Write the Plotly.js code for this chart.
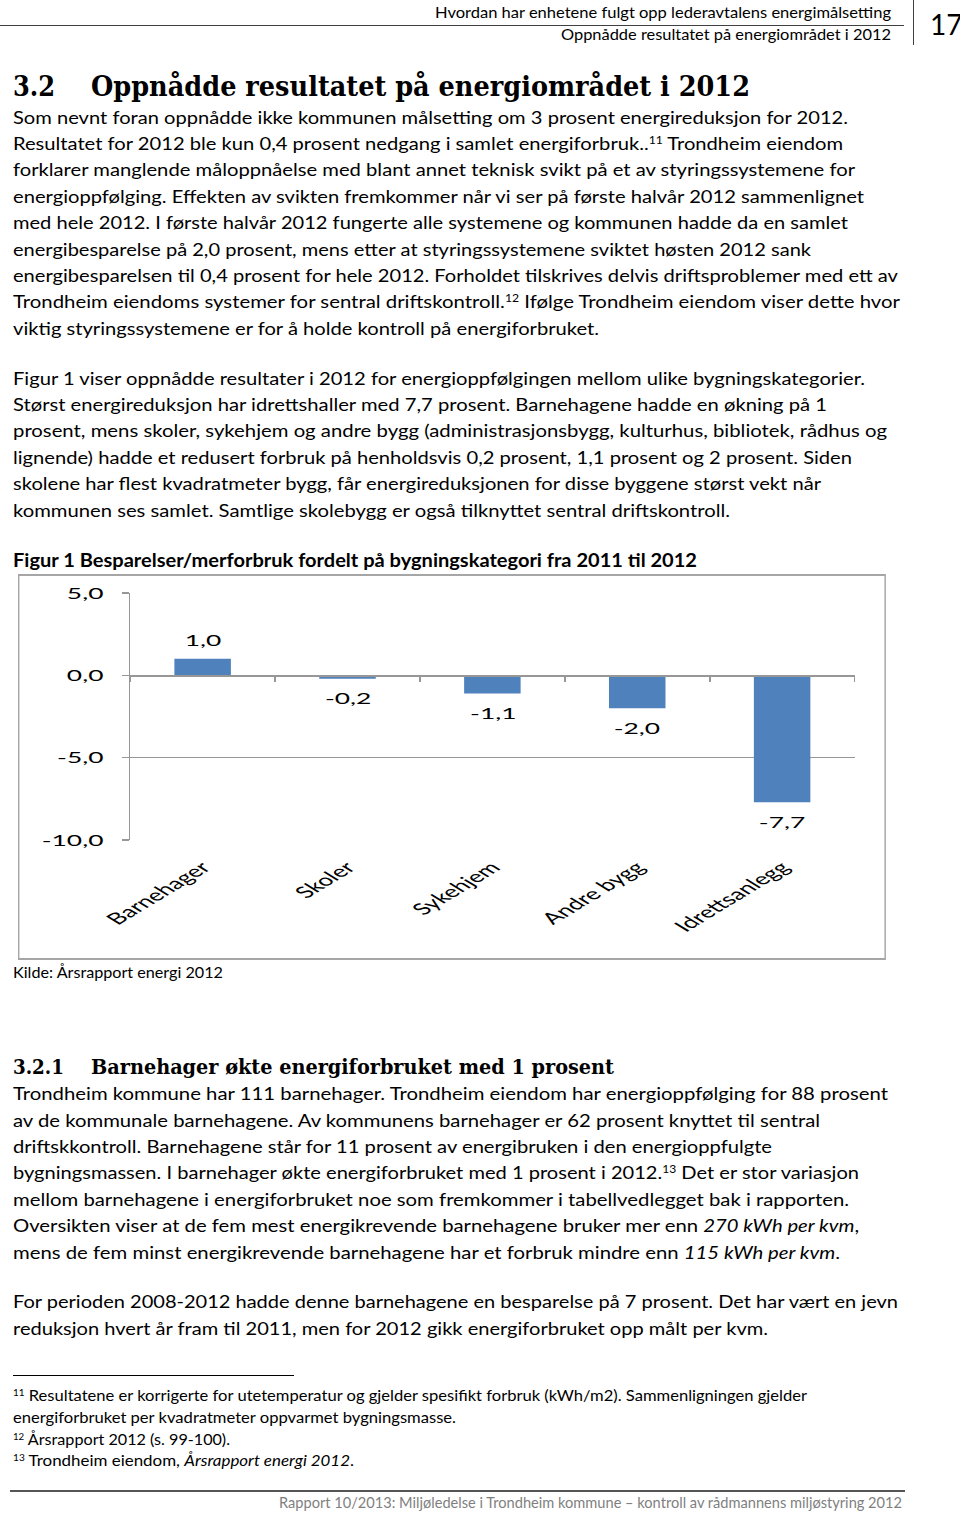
<!DOCTYPE html>
<html>
<head>
<meta charset="utf-8">
<script src="https://cdn.plot.ly/plotly-3.0.1.min.js"></script>
<style>
  html, body { margin:0; padding:0; background:#fff; }
  body { width:960px; height:1513px; position:relative; overflow:hidden; }
  .ln { position:absolute; white-space:nowrap; line-height:1; transform-origin:0 0; color:#000; }
  .b  { font-family:Lato, sans-serif; font-size:18px; }
  .cap{ font-family:Lato, sans-serif; font-size:18px; font-weight:bold; }
  .fn { font-family:Lato, sans-serif; font-size:15px; }
  .hd { font-family:Lato, sans-serif; font-size:15px; }
  .ft { font-family:Lato, sans-serif; font-size:15px; color:#7f7f7f; }
  .h1 { font-family:"DejaVu Serif", serif; font-size:28px; font-weight:bold; }
  .h2 { font-family:"DejaVu Serif", serif; font-size:20px; font-weight:bold; }
  .pg { font-family:Lato, sans-serif; font-size:28px; }
  sup { font-size:0.6em; vertical-align:0.6em; line-height:0; }
  .rule { position:absolute; }
  #wrap { position:absolute; left:18px; top:574px; width:526px; height:386px; box-sizing:border-box;
          border-style:solid; border-color:#a6a6a6; border-width:2px 1.2px; transform:scaleX(1.65); transform-origin:0 0; }
  #chart { width:523.6px; height:382px; }
</style>
</head>
<body>
<div class="rule" style="left:0;top:25px;width:904px;height:1px;background:#404040"></div>
<div class="rule" style="left:913px;top:0;width:1px;height:45px;background:#404040"></div>
<div class="rule" style="left:13px;top:1375px;width:281px;height:1px;background:#000"></div>
<div class="rule" style="left:10px;top:1490px;width:895px;height:2px;background:#555"></div>
<div id="wrap"><div id="chart"></div></div>
<script>
// ---- chart data ----
const categories = ['Barnehager', 'Skoler', 'Sykehjem', 'Andre bygg', 'Idrettsanlegg'];
const values = [1.0, -0.2, -1.1, -2.0, -7.7];
const yTickVals = [5, 0, -5, -10];
const yRange = [-10, 5];

const fmt = v => v.toFixed(1).replace('.', ',');
const labels = values.map(fmt);
const yTickText = yTickVals.map(fmt);
const zeroPos = (0 - yRange[0]) / (yRange[1] - yRange[0]);
const gray = '#979797';
const chartFont = { family: 'Lato, sans-serif', size: 16, color: '#000' };

const traces = [
  { type: 'bar', x: categories, y: values, marker: { color: '#4f81bd' },
    hoverinfo: 'skip', showlegend: false },
  { type: 'scatter', mode: 'markers', x: categories, y: values, xaxis: 'x2', yaxis: 'y',
    marker: { opacity: 0 }, hoverinfo: 'skip', showlegend: false }
];

const annotations = categories.map((c, i) => ({
  x: c, y: values[i], xref: 'x', yref: 'y', text: labels[i], showarrow: false,
  yshift: values[i] >= 0 ? 19 : -19, font: chartFont
}));

const layout = {
  width: 523.6, height: 382,
  margin: { l: 67, r: 18, t: 17, b: 118 },
  paper_bgcolor: '#fff', plot_bgcolor: '#fff',
  separators: ',.',
  showlegend: false,
  bargap: 0.61,
  font: chartFont,
  xaxis: { type: 'category', range: [-0.5, categories.length - 0.5], tickangle: -45, ticks: '',
           showline: false, showgrid: false, zeroline: false, tickfont: chartFont,
           ticklabelstandoff: 14, fixedrange: true },
  xaxis2: { type: 'category', overlaying: 'x', anchor: 'free', position: zeroPos,
            range: [-0.5, categories.length - 0.5], showticklabels: false, ticks: 'outside',
            ticklen: 5, tickwidth: 1, tickcolor: gray, tickson: 'boundaries',
            showline: true, linecolor: gray, linewidth: 1.5, showgrid: false, zeroline: false },
  yaxis: { range: yRange, tickmode: 'array', tickvals: yTickVals, ticktext: yTickText,
           showgrid: true, gridcolor: gray,
           gridwidth: 1.5, zeroline: false, showline: true, linecolor: gray, linewidth: 1,
           ticks: 'outside', ticklen: 4, tickwidth: 1.5, tickcolor: gray, tickfont: chartFont,
           ticklabelstandoff: 8, fixedrange: true },
  annotations: annotations
};

Plotly.newPlot('chart', traces, layout, { displayModeBar: false, staticPlot: true });

// ---- page text ----
const lines = [
  ['hd', 13, 435, 891, 'Hvordan har enhetene fulgt opp lederavtalens energimålsetting'],
  ['hd', 35, 561, 891, 'Oppnådde resultatet på energiområdet i 2012'],
  ['pg', 25, 930, 0, '17'],
  ['h1', 86, 13, 55, '3.2'],
  ['h1', 86, 91, 750, 'Oppnådde resultatet på energiområdet i 2012'],
  ['b', 117, 13, 848, 'Som nevnt foran oppnådde ikke kommunen målsetting om 3 prosent energireduksjon for 2012.'],
  ['b', 143, 13, 843, 'Resultatet for 2012 ble kun 0,4 prosent nedgang i samlet energiforbruk..<sup>11</sup> Trondheim eiendom'],
  ['b', 169, 13, 855, 'forklarer manglende måloppnåelse med blant annet teknisk svikt på et av styringssystemene for'],
  ['b', 196, 13, 864, 'energioppfølging. Effekten av svikten fremkommer når vi ser på første halvår 2012 sammenlignet'],
  ['b', 222, 13, 848, 'med hele 2012. I første halvår 2012 fungerte alle systemene og kommunen hadde da en samlet'],
  ['b', 249, 13, 811, 'energibesparelse på 2,0 prosent, mens etter at styringssystemene sviktet høsten 2012 sank'],
  ['b', 275, 13, 898, 'energibesparelsen til 0,4 prosent for hele 2012. Forholdet tilskrives delvis driftsproblemer med ett av'],
  ['b', 301, 13, 900, 'Trondheim eiendoms systemer for sentral driftskontroll.<sup>12</sup> Ifølge Trondheim eiendom viser dette hvor'],
  ['b', 328, 13, 599, 'viktig styringssystemene er for å holde kontroll på energiforbruket.'],
  ['b', 378, 13, 865, 'Figur 1 viser oppnådde resultater i 2012 for energioppfølgingen mellom ulike bygningskategorier.'],
  ['b', 404, 13, 827, 'Størst energireduksjon har idrettshaller med 7,7 prosent. Barnehagene hadde en økning på 1'],
  ['b', 430, 13, 887, 'prosent, mens skoler, sykehjem og andre bygg (administrasjonsbygg, kulturhus, bibliotek, rådhus og'],
  ['b', 457, 13, 852, 'lignende) hadde et redusert forbruk på henholdsvis 0,2 prosent, 1,1 prosent og 2 prosent. Siden'],
  ['b', 483, 13, 821, 'skolene har flest kvadratmeter bygg, får energireduksjonen for disse byggene størst vekt når'],
  ['b', 510, 13, 730, 'kommunen ses samlet. Samtlige skolebygg er også tilknyttet sentral driftskontroll.'],
  ['cap', 560, 13, 697, 'Figur 1 Besparelser/merforbruk fordelt på bygningskategori fra 2011 til 2012'],
  ['fn', 973, 13, 223, 'Kilde: Årsrapport energi 2012'],
  ['h2', 1067, 13, 64, '3.2.1'],
  ['h2', 1067, 91, 614, 'Barnehager økte energiforbruket med 1 prosent'],
  ['b', 1093, 13, 888, 'Trondheim kommune har 111 barnehager. Trondheim eiendom har energioppfølging for 88 prosent'],
  ['b', 1120, 13, 820, 'av de kommunale barnehagene. Av kommunens barnehager er 62 prosent knyttet til sentral'],
  ['b', 1146, 13, 772, 'driftskkontroll. Barnehagene står for 11 prosent av energibruken i den energioppfulgte'],
  ['b', 1172, 13, 859, 'bygningsmassen. I barnehager økte energiforbruket med 1 prosent i 2012.<sup>13</sup> Det er stor variasjon'],
  ['b', 1199, 13, 849, 'mellom barnehagene i energiforbruket noe som fremkommer i tabellvedlegget bak i rapporten.'],
  ['b', 1225, 13, 859, 'Oversikten viser at de fem mest energikrevende barnehagene bruker mer enn <i>270 kWh per kvm</i>,'],
  ['b', 1252, 13, 840, 'mens de fem minst energikrevende barnehagene har et forbruk mindre enn <i>115 kWh per kvm</i>.'],
  ['b', 1301, 13, 898, 'For perioden 2008-2012 hadde denne barnehagene en besparelse på 7 prosent. Det har vært en jevn'],
  ['b', 1328, 13, 768, 'reduksjon hvert år fram til 2011, men for 2012 gikk energiforbruket opp målt per kvm.'],
  ['fn', 1396, 13, 807, '<sup>11</sup> Resultatene er korrigerte for utetemperatur og gjelder spesifikt forbruk (kWh/m2). Sammenligningen gjelder'],
  ['fn', 1418, 13, 456, 'energiforbruket per kvadratmeter oppvarmet bygningsmasse.'],
  ['fn', 1440, 13, 230, '<sup>12</sup> Årsrapport 2012 (s. 99-100).'],
  ['fn', 1461, 13, 354, '<sup>13</sup> Trondheim eiendom, <i>Årsrapport energi 2012</i>.'],
  ['ft', 1503, 279, 902, 'Rapport 10/2013: Miljøledelse i Trondheim kommune – kontroll av rådmannens miljøstyring 2012']
];
const sizes = { b: 18, cap: 18, fn: 15, hd: 15, ft: 15, h1: 28, h2: 20, pg: 28 };
const kTop = { b: 0.527, cap: 0.527, fn: 0.527, hd: 0.527, ft: 0.527, pg: 0.527, h1: 0.48, h2: 0.48 };
const els = lines.map(([cls, yc, x0, x1, html]) => {
  const d = document.createElement('div');
  d.className = 'ln ' + cls;
  d.innerHTML = html;
  d.style.left = x0 + 'px';
  d.style.top = (yc - kTop[cls] * sizes[cls]) + 'px';
  document.body.appendChild(d);
  return [d, x0, x1];
});
function fit() {
  els.forEach(([d, x0, x1]) => {
    if (!x1) return;
    d.style.transform = 'none';
    const w = d.getBoundingClientRect().width;
    if (w > 0) d.style.transform = 'scaleX(' + ((x1 - x0) / w) + ')';
  });
}
fit();
if (document.fonts && document.fonts.ready) document.fonts.ready.then(fit);
</script>
</body>
</html>
